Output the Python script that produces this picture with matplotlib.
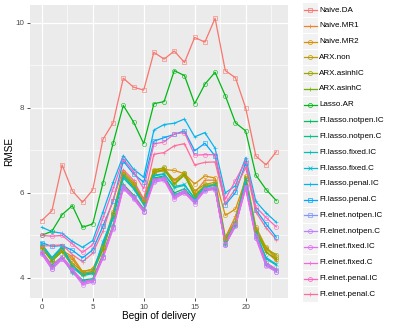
import numpy as np
import matplotlib
matplotlib.use("Agg")
import matplotlib.pyplot as plt
from matplotlib.patches import Rectangle

plt.rcParams["font.family"] = ["Liberation Sans", "DejaVu Sans"]

# begin of delivery (hour)
hours = list(range(24))

models = [
    "Naive.DA", "Naive.MR1", "Naive.MR2", "ARX.non", "ARX.asinhIC", "ARX.asinhC",
    "Lasso.AR", "Fl.lasso.notpen.IC", "Fl.lasso.notpen.C", "Fl.lasso.fixed.IC",
    "Fl.lasso.fixed.C", "Fl.lasso.penal.IC", "Fl.lasso.penal.C",
    "Fl.elnet.notpen.IC", "Fl.elnet.notpen.C", "Fl.elnet.fixed.IC",
    "Fl.elnet.fixed.C", "Fl.elnet.penal.IC", "Fl.elnet.penal.C",
]

naive_da = [5.35, 5.58, 6.66, 6.05, 5.78, 6.07, 7.26, 7.65, 8.70, 8.49, 8.42, 9.31,
            9.15, 9.34, 9.07, 9.66, 9.55, 10.11, 8.88, 8.71, 8.00, 6.87, 6.66, 6.97]
naive_mr1 = [4.72, 4.40, 4.62, 4.45, 4.12, 4.15, 4.65, 5.45, 6.40, 6.15, 5.80, 6.48,
             6.52, 6.30, 6.40, 6.00, 6.30, 6.30, 4.95, 5.45, 6.30, 5.15, 4.62, 4.40]
naive_mr2 = [4.70, 4.42, 4.65, 4.50, 4.15, 4.20, 4.70, 5.50, 6.45, 6.20, 5.85, 6.50,
             6.55, 6.53, 6.45, 6.21, 6.40, 6.35, 5.47, 5.62, 6.32, 5.12, 4.70, 4.45]
arx_non = [4.75, 4.45, 4.68, 4.35, 4.15, 4.20, 4.75, 5.55, 6.50, 6.25, 5.85, 6.55,
           6.58, 6.30, 6.48, 6.05, 6.20, 6.25, 4.95, 5.35, 6.40, 5.20, 4.72, 4.50]
arx_asinhic = [4.72, 4.42, 4.65, 4.30, 4.10, 4.15, 4.70, 5.50, 6.45, 6.20, 5.80, 6.52,
               6.60, 6.22, 6.46, 5.95, 6.18, 6.20, 4.90, 5.30, 6.35, 5.15, 4.68, 4.55]
arx_asinhc = [4.70, 4.40, 4.62, 4.28, 4.08, 4.12, 4.68, 5.45, 6.40, 6.15, 5.78, 6.48,
              6.55, 6.20, 6.42, 5.92, 6.15, 6.18, 4.88, 5.28, 6.30, 5.10, 4.60, 4.45]
lasso_ar = [5.00, 5.10, 5.49, 5.70, 5.19, 5.27, 6.23, 7.17, 8.06, 7.67, 7.16, 8.10,
            8.15, 8.88, 8.76, 8.10, 8.56, 8.84, 8.29, 7.65, 7.46, 6.42, 6.08, 5.82]
lasso_notpen_ic = [4.62, 4.30, 4.50, 4.15, 3.95, 3.98, 4.55, 5.25, 6.20, 5.95, 5.62, 6.35,
                   6.40, 6.00, 6.10, 5.82, 6.10, 6.12, 4.80, 5.25, 6.20, 5.00, 4.35, 4.20]
lasso_notpen_c = [4.60, 4.28, 4.48, 4.12, 3.92, 3.95, 4.52, 5.22, 6.18, 5.92, 5.60, 6.32,
                  6.38, 5.95, 6.05, 5.80, 6.08, 6.10, 4.78, 5.22, 6.18, 4.98, 4.32, 4.18]
lasso_fixed_ic = [4.78, 4.45, 4.72, 4.25, 4.05, 4.10, 4.80, 5.40, 6.35, 6.10, 5.72, 6.42,
                  6.45, 6.12, 6.18, 5.88, 6.15, 6.18, 4.85, 5.30, 6.30, 5.05, 4.45, 4.30]
lasso_fixed_c = [4.80, 4.48, 4.74, 4.28, 4.08, 4.12, 4.85, 5.45, 6.40, 6.12, 5.75, 6.40,
                 6.44, 6.15, 6.20, 5.85, 6.12, 6.20, 4.85, 5.28, 6.32, 5.05, 4.48, 4.32]
lasso_penal_ic = [5.19, 5.09, 5.05, 4.86, 4.72, 4.88, 5.55, 6.25, 6.88, 6.56, 6.37, 7.48,
                  7.61, 7.64, 7.74, 7.32, 7.42, 7.05, 6.00, 6.17, 6.83, 5.80, 5.53, 5.31]
lasso_penal_c = [4.83, 4.74, 4.76, 4.65, 4.47, 4.66, 5.22, 5.80, 6.75, 6.45, 6.25, 7.22,
                 7.30, 7.38, 7.46, 6.99, 7.17, 6.87, 5.72, 6.01, 6.70, 5.60, 5.27, 4.96]
elnet_notpen_ic = [4.60, 4.25, 4.48, 4.20, 3.92, 3.95, 4.50, 5.20, 6.15, 5.90, 5.58, 6.30,
                   6.35, 5.95, 6.05, 5.80, 6.10, 6.12, 4.80, 5.25, 6.15, 4.98, 4.35, 4.18]
elnet_notpen_c = [4.58, 4.22, 4.45, 4.18, 3.88, 3.92, 4.48, 5.18, 6.12, 5.88, 5.56, 6.28,
                  6.32, 5.90, 6.02, 5.78, 6.08, 6.10, 4.78, 5.22, 6.12, 4.95, 4.30, 4.15]
elnet_fixed_ic = [4.56, 4.20, 4.44, 4.16, 3.84, 3.90, 4.46, 5.15, 6.10, 5.86, 5.55, 6.25,
                  6.30, 5.86, 6.00, 5.75, 6.05, 6.08, 4.77, 5.24, 6.10, 4.93, 4.28, 4.14]
elnet_fixed_c = [4.62, 4.28, 4.50, 4.22, 3.90, 3.94, 4.52, 5.22, 6.18, 5.92, 5.60, 6.32,
                 6.36, 5.92, 6.04, 5.80, 6.10, 6.12, 4.82, 5.28, 6.18, 5.00, 4.36, 4.20]
elnet_penal_ic = [5.00, 4.98, 5.00, 4.80, 4.60, 4.78, 5.40, 6.10, 6.80, 6.50, 6.10, 7.15,
                  7.20, 7.39, 7.42, 6.89, 6.90, 6.90, 5.85, 6.29, 6.75, 5.67, 5.42, 5.20]
elnet_penal_c = [4.75, 4.76, 4.78, 4.55, 4.38, 4.58, 5.10, 5.85, 6.55, 6.30, 5.85, 6.91,
                 6.95, 7.11, 7.16, 6.66, 6.72, 6.73, 5.75, 6.10, 6.60, 5.55, 5.18, 4.90]

rmse = [naive_da, naive_mr1, naive_mr2, arx_non, arx_asinhic, arx_asinhc, lasso_ar,
        lasso_notpen_ic, lasso_notpen_c, lasso_fixed_ic, lasso_fixed_c,
        lasso_penal_ic, lasso_penal_c, elnet_notpen_ic, elnet_notpen_c,
        elnet_fixed_ic, elnet_fixed_c, elnet_penal_ic, elnet_penal_c]

markers = ["s", "+", "o", "o", "o", "+", "o", "+", "+", "|", "x",
           "+", "s", "s", "o", "o", "+", "o", "+"]


def hcl_hex(h, c=100, l=65):
    # ggplot2 hue_pal colours (polar CIE-Luv, D65)
    un, vn = 0.1978398, 0.4683363
    u = c * np.cos(np.radians(h))
    v = c * np.sin(np.radians(h))
    Y = ((l + 16) / 116) ** 3
    up = u / (13 * l) + un
    vp = v / (13 * l) + vn
    X = 9 * Y * up / (4 * vp)
    Z = -X / 3 - 5 * Y + 3 * Y / vp
    rgb = np.array([3.240479 * X - 1.537150 * Y - 0.498535 * Z,
                    -0.969256 * X + 1.875992 * Y + 0.041556 * Z,
                    0.055648 * X - 0.204043 * Y + 1.057311 * Z])
    rgb = np.where(rgb > 0.0031308, 1.055 * np.clip(rgb, 0, None) ** (1 / 2.4) - 0.055, 12.92 * rgb)
    return tuple(np.clip(rgb, 0, 1))


n = len(models)
colors = [hcl_hex(15 + i * 360 / n) for i in range(n)]

fig = plt.figure(figsize=(3.95, 3.29), dpi=100)
ax = fig.add_axes([30 / 395, 31 / 329, 258 / 395, 293 / 329])
ax.set_facecolor("#EBEBEB")
for s in ax.spines.values():
    s.set_visible(False)

for vals, col in zip(rmse, colors):
    ax.plot(hours, vals, color=col, lw=0.9, zorder=3)
for vals, col, m in zip(rmse, colors, markers):
    ax.plot(hours, vals, ls="none", marker=m, ms=3, mfc="none", mec=col, mew=0.5,
            alpha=0.8, zorder=4)

ax.margins(x=0.05, y=0.05)
ax.set_xticks([0, 5, 10, 15, 20])
ax.set_xticks([2.5, 7.5, 12.5, 17.5, 22.5], minor=True)
ax.set_yticks([4, 6, 8, 10])
ax.set_yticks([5, 7, 9], minor=True)
ax.grid(which="major", color="white", lw=0.9, zorder=0)
ax.grid(which="minor", color="white", lw=0.45, zorder=0)
ax.set_axisbelow(True)
ax.tick_params(which="major", length=2.5, width=0.6, color="#333333",
               labelsize=5.8, labelcolor="#4D4D4D", pad=1.5)
ax.tick_params(which="minor", length=0)
ax.set_xlabel("Begin of delivery", fontsize=7.2, labelpad=0)
ax.set_ylabel("RMSE", fontsize=7.2, labelpad=1)

# legend drawn in pixel coordinates
lg = fig.add_axes([0, 0, 1, 1], facecolor="none")
lg.set_xlim(0, 395)
lg.set_ylim(329, 0)
lg.axis("off")
for i, (name, col, m) in enumerate(zip(models, colors, markers)):
    yc = 10 + 15.8 * i
    lg.add_patch(Rectangle((302.5, yc - 7.4), 15.5, 14.8, facecolor="#F2F2F2",
                           edgecolor="none"))
    lg.plot([303.5, 317], [yc, yc], color=col, lw=0.9)
    lg.plot([310.2], [yc], marker=m, ms=3, mfc="none", mec=col, mew=0.5)
    lg.text(319, yc, name, fontsize=5.8, va="center", ha="left", color="black")

fig.savefig("out.png", dpi=100)
